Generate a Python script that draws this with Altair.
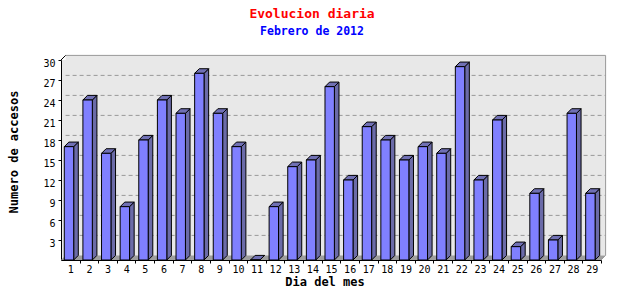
import altair as alt
import pandas as pd

# ---- data ----
days = list(range(1, 30))
visits = [17, 24, 16, 8, 18, 24, 22, 28, 22, 17, 0, 8, 14, 15, 26, 12, 20, 18, 15,
          17, 16, 29, 12, 21, 2, 10, 3, 22, 10]
y_ticks = [3, 6, 9, 12, 15, 18, 21, 24, 27, 30]
grid_values = [3, 6, 9, 12, 15, 18, 21, 24, 27]

TITLE = "Evolucion diaria"
SUBTITLE = "Febrero de 2012"
X_TITLE = "Dia del mes"
Y_TITLE = "Numero de accesos"

# ---- layout / style ----
W, H = 540, 200
X_DOM = [0.5, 29.5]
Y_DOM = [0, 30]
DEPTH_PX = 4.6
DX = DEPTH_PX / (W / 29)       # depth in x units
DY = DEPTH_PX / (H / 30)       # depth in y units
FL, FR = -0.323, 0.182         # front face extent relative to day
FONT = "DejaVu Sans Mono"

FRONT = "#8080ff"
SIDE = "#6b6ba8"
TOP = "#7070b4"
WALL = "#e8e8e8"
FLOOR = "#9e9e9e"
BORDER = "#999999"

xs = alt.Scale(domain=X_DOM, nice=False, zero=False)
ys = alt.Scale(domain=Y_DOM, nice=False, zero=False)


def X(field):
    return alt.X(field, scale=xs, title=None)


def Y(field):
    return alt.Y(field, scale=ys, title=None)


df = pd.DataFrame({"day": days, "v": visits})
df["x1"] = df["day"] + FL
df["x2"] = df["day"] + FR

side_rows, top_rows = [], []
for d, v in zip(days, visits):
    side_rows.append({"day": d, "x": d + FR, "y": 0, "y2": v})
    side_rows.append({"day": d, "x": d + FR + DX, "y": DY, "y2": v + DY})
    top_rows.append({"day": d, "y": v, "x": d + FL, "x2": d + FR})
    top_rows.append({"day": d, "y": v + DY, "x": d + FL + DX, "x2": d + FR + DX})
side_df = pd.DataFrame(side_rows)
top_df = pd.DataFrame(top_rows)

frame_df = pd.DataFrame({"x1": [X_DOM[0]], "x2": [X_DOM[1]], "y1": [Y_DOM[0]], "y2": [Y_DOM[1]]})
floor_df = pd.DataFrame({"y": [0, DY], "x": [X_DOM[0], X_DOM[0] + DX], "x2": [X_DOM[1], X_DOM[1] + DX]})
grid_df = pd.DataFrame({"g": grid_values, "x1": X_DOM[0], "x2": X_DOM[1]})

axes = alt.Chart(df).mark_point(opacity=0).encode(
    x=alt.X("day:Q", scale=xs, title=None,
            axis=alt.Axis(values=days, tickCount=len(days) + 1, format="d", tickSize=3,
                          tickOffset=W / 29 / 2, labelOffset=-W / 29 / 2, labelPadding=1)),
    y=alt.Y("v:Q", scale=ys, title=None,
            axis=alt.Axis(values=y_ticks, tickCount=len(y_ticks) + 1, tickSize=3,
                          labelPadding=3, labelOffset=3)),
)

# back wall
wall = alt.Chart(frame_df).mark_rect(
    fill=WALL, xOffset=DEPTH_PX, x2Offset=DEPTH_PX, yOffset=-DEPTH_PX, y2Offset=-DEPTH_PX
).encode(x=X("x1:Q"), x2="x2:Q", y=Y("y1:Q"), y2="y2:Q")

grid = alt.Chart(grid_df).mark_rule(
    color=BORDER, strokeDash=[4, 3], strokeWidth=1,
    xOffset=DEPTH_PX, x2Offset=DEPTH_PX, yOffset=-DEPTH_PX
).encode(x=X("x1:Q"), x2="x2:Q", y=Y("g:Q"))

floor = alt.Chart(floor_df).mark_area(orient="horizontal", fill=FLOOR).encode(
    y=Y("y:Q"), x=X("x:Q"), x2="x2:Q")

top_border = alt.Chart(frame_df).mark_rule(
    color=BORDER, xOffset=DEPTH_PX, x2Offset=DEPTH_PX, yOffset=-DEPTH_PX
).encode(x=X("x1:Q"), x2="x2:Q", y=Y("y2:Q"))
right_border = alt.Chart(frame_df).mark_rule(
    color=BORDER, xOffset=DEPTH_PX, yOffset=-DEPTH_PX, y2Offset=-DEPTH_PX
).encode(x=X("x2:Q"), y=Y("y1:Q"), y2="y2:Q")
left_diag = alt.Chart(frame_df).mark_rule(
    color="black", x2Offset=DEPTH_PX, y2Offset=-DEPTH_PX
).encode(x=X("x1:Q"), x2="x1:Q", y=Y("y2:Q"), y2="y2:Q")
right_diag = alt.Chart(frame_df).mark_rule(
    color=BORDER, x2Offset=DEPTH_PX, y2Offset=-DEPTH_PX
).encode(x=X("x2:Q"), x2="x2:Q", y=Y("y1:Q"), y2="y1:Q")

side = alt.Chart(side_df).mark_area(fill=SIDE, stroke="black", strokeWidth=1).encode(
    x=X("x:Q"), y=Y("y:Q"), y2="y2:Q", detail="day:N")
top = alt.Chart(top_df).mark_area(orient="horizontal", fill=TOP, stroke="black", strokeWidth=1).encode(
    y=Y("y:Q"), x=X("x:Q"), x2="x2:Q", detail="day:N")
front = alt.Chart(df).mark_rect(fill=FRONT, stroke="black", strokeWidth=1).encode(
    x=X("x1:Q"), x2="x2:Q", y=Y("v:Q"), y2=alt.datum(0))


def label(txt, x, y, size, color, angle=0):
    return alt.Chart(pd.DataFrame({"t": [txt]})).mark_text(
        font=FONT, fontWeight="bold", fontSize=size, color=color, angle=angle,
        align="center", baseline="middle"
    ).encode(text="t:N", x=alt.value(x), y=alt.value(y))


t1 = label(TITLE, 251, -46, 13, "#ff0000")
t2 = label(SUBTITLE, 251, -28, 11.5, "#0000ff")
xt = label(X_TITLE, 264, 222, 12, "black")
yt = label(Y_TITLE, -47, 92, 12, "black", angle=270)

chart = alt.layer(
    axes, wall, grid, floor, top_border, right_border, right_diag, left_diag,
    side, top, front, t1, t2, xt, yt
).properties(
    width=W, height=H,
    autosize=alt.AutoSizeParams(type="none"),
    padding={"left": 61, "top": 60, "right": 39, "bottom": 40},
    background="white",
).configure_view(fill=WALL, stroke=None).configure_axis(
    labelOverlap=False, labelFlush=False, labelBound=False, grid=False,
    labelFont=FONT, labelFontSize=10, labelColor="black",
    domainColor="black", tickColor="black", zindex=1
)

chart.save("out.html", embed_options={"renderer": "svg", "actions": False})
